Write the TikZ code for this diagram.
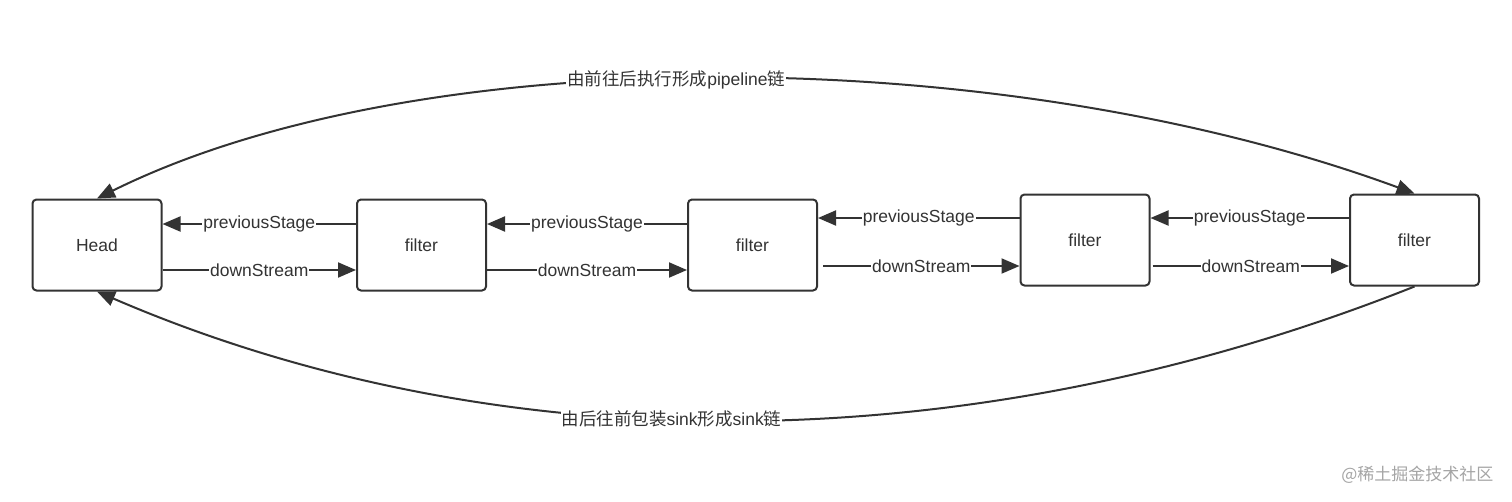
\documentclass[tikz,border=0pt]{standalone}
\usepackage{fontspec}
\setmainfont{Liberation Sans}
\newfontfamily\cjk{Noto Sans CJK SC}
\usetikzlibrary{arrows.meta}
\definecolor{ink}{RGB}{51,51,51}
\definecolor{wm}{RGB}{165,165,165}
\tikzset{
  stagebox/.style={draw=ink, line width=2pt, rounded corners=4pt, minimum width=129pt, minimum height=91pt, inner sep=0pt, text=ink, font=\fontsize{17.5}{20}\selectfont},
  arr/.style={draw=ink, line width=2pt, -{Triangle[length=18pt,width=15pt]}},
  dblarr/.style={draw=ink, line width=2pt, {Triangle[length=18pt,width=15pt]}-{Triangle[length=18pt,width=15pt]}},
  lab/.style={fill=white, text=ink, inner sep=1pt, font=\fontsize{17.5}{20}\selectfont},
}
\begin{document}
\begin{tikzpicture}[x=1pt,y=-1pt]
\useasboundingbox[fill=white] (0,0) rectangle (1512,501);
\node[stagebox] (head) at (97,245) {Head};
\node[stagebox] (f1) at (421.5,245) {filter};
\node[stagebox] (f2) at (752.5,245) {filter};
\node[stagebox] (f3) at (1085,240) {filter};
\node[stagebox] (f4) at (1414.5,240) {filter};
% previousStage arrows
\draw[arr] ([yshift=21pt]f1.west) -- node[lab]{previousStage} ([yshift=21pt]head.east);
\draw[arr] ([yshift=21pt]f2.west) -- node[lab]{previousStage} ([yshift=21pt]f1.east);
\draw[arr] ([yshift=22pt]f3.west) coordinate (p3) -- node[lab]{previousStage} (p3 -| f2.east);
\draw[arr] ([yshift=22pt]f4.west) -- node[lab]{previousStage} ([yshift=22pt]f3.east);
% downStream arrows
\draw[arr] ([yshift=-25pt]head.east) -- node[lab]{downStream} ([yshift=-25pt]f1.west);
\draw[arr] ([yshift=-25pt]f1.east) -- node[lab]{downStream} ([yshift=-25pt]f2.west);
\draw[arr] ([yshift=-26pt]f3.west) coordinate (d3) (d3 -| f2.east) ++(5,0) -- node[lab]{downStream} (d3);
\draw[arr] ([yshift=-26pt]f3.east) ++(2,0) -- node[lab]{downStream} ([yshift=-26pt]f4.west);
% chains
\draw[dblarr] (head.north) .. controls (416,40) and (997,40) .. node[lab,pos=0.47]{{\cjk 由前往后执行形成}pipeline{\cjk 链}} (f4.north);
\draw[arr] (f4.south) .. controls (968,464) and (497,464) .. node[lab,pos=0.55]{{\cjk 由后往前包装}sink{\cjk 形成}sink{\cjk 链}} (head.south);
% watermark
\node[text=wm, font=\fontsize{17}{20}\cjk, anchor=east] (wmk) at (1497,475) {@稀土掘金技术社区};
\end{tikzpicture}
\end{document}
